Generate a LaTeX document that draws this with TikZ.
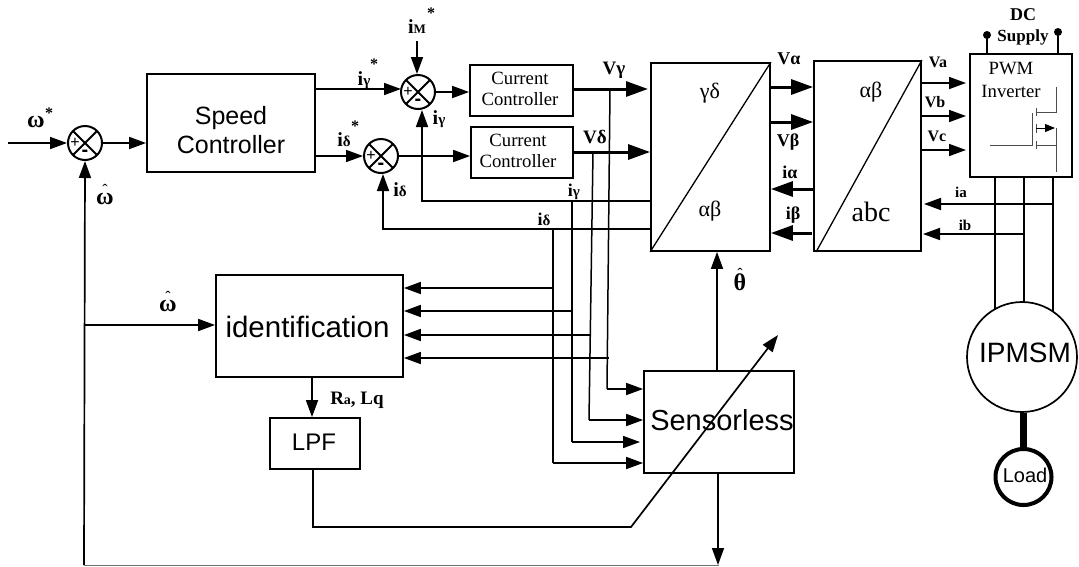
\documentclass[tikz,border=0pt]{standalone}
\usepackage{fontspec}
\setmainfont{Liberation Serif}
\newfontfamily\arialf{Liberation Sans}
\usetikzlibrary{arrows.meta}
\newcommand\fsz[1]{\fontsize{#1}{#1}\selectfont}
\newcommand\sub[2]{{\fsz{#1}#2}}
\newcommand\hatx[2]{\ooalign{\hfil\smash{\raisebox{#1}{\fsz{16}\mdseries ˆ}}\hfil\cr #2\cr}}
\tikzset{
  box/.style={draw,line width=1.8pt,inner sep=0pt,align=center,minimum width=#1},
  sumj/.style={draw,circle,line width=2pt,minimum size=34pt,inner sep=0pt,fill=white,
    path picture={\draw[line width=2pt] (path picture bounding box.north west)--(path picture bounding box.south east)
      (path picture bounding box.south west)--(path picture bounding box.north east);}},
  wire/.style={line width=1.5pt},
  thick arr/.style={line width=3pt,-{Triangle[length=22pt,width=15pt]}},
  med arr/.style={line width=1.7pt,-{Triangle[length=17pt,width=12pt]}},
  lab/.style={inner sep=0pt,font=\bfseries\fsz{#1}},
  ser/.style={inner sep=0pt,font=\fsz{#1}},
  ar/.style={inner sep=0pt,font=\arialf\fsz{#1},align=center},
  fet/.style={line width=0.8pt,draw=black!70}
}
\begin{document}
\begin{tikzpicture}[x=1pt,y=-1pt]
\useasboundingbox (0,0) rectangle (1079,566);
% blocks
\node[box=168pt,minimum height=98pt] (speed) at (231,123) {};
\node[box=103pt,minimum height=51pt] (cc1) at (521.5,90.5) {};
\node[box=102pt,minimum height=51pt] (cc2) at (522,152.5) {};
\node[box=119pt,minimum height=188pt] (gd) at (710.5,157) {};
\node[box=107pt,minimum height=190pt] (ab) at (867.5,156) {};
\node[box=102pt,minimum height=123pt] (pwm) at (1021,115.5) {};
\node[box=187pt,minimum height=102pt] (ident) at (309.5,326) {};
\node[box=90pt,minimum height=51pt] (lpf) at (315,443.5) {};
\node[box=150pt,minimum height=102pt] (sless) at (719,422) {};
\node[draw,circle,line width=1.7pt,minimum size=110pt,inner sep=0pt] (motor) at (1022,357) {};
\node[draw,circle,line width=4pt,minimum size=56pt,inner sep=0pt] (load) at (1023.5,477) {};
% summing junctions
\node[sumj] (s1) at (85,143) {};
\node[sumj] (s2) at (418,92) {};
\node[sumj] (s3) at (381,156) {};
\foreach \s in {s1,s2,s3}{
  \node[ar=16] (\s p) at ([xshift=-10pt]\s.center) {+};
  \node[inner sep=0pt,font=\arialf\bfseries\fsz{20}] (\s m) at ([yshift=-10pt]\s.center) {-};
}
% diagonals
\draw[line width=1.3pt] (gd.south west)--(gd.north east);
\draw[line width=1.3pt] ([xshift=3pt]ab.south west)--(ab.north east);
% left / top signal flow
\coordinate (win) at (8,143);
\coordinate (ms) at (417,41);
\draw[med arr] (win)--(s1.west);
\draw[med arr] (s1.east)--(speed.west|-s1.east);
\draw[med arr] (speed.east|-0,89)--(401,89);
\draw[med arr] (speed.east|-0,156)--(s3.west);
\draw[med arr] (ms)--(s2.north-|ms);
\draw[med arr] (s2.east)--(cc1.west|-s2.east);
\draw[med arr] (s3.east)--(cc2.west|-s3.east);
% feedback
\draw[med arr] (gd.west|-0,201)-|(422,110);
\draw[med arr] (gd.west|-0,229)-|(383,174);
% speed loop
\coordinate (bl) at (84,565);
\coordinate (wt) at (84,325);
\draw[med arr] (bl)--(s1.south);
\draw[line width=1pt,draw=black!55] (bl)--(sless.south|-bl);
\draw[med arr] (wt)--(ident.west|-wt);
% thick
\draw[thick arr] (cc1.east|-0,89)--(648,89);
\draw[thick arr] (cc2.east|-0,152)--(gd.west|-0,152);
\draw[thick arr] (gd.east|-0,87)--(ab.west|-0,87);
\draw[thick arr] (gd.east|-0,122)--(ab.west|-0,122);
\draw[thick arr] (ab.west|-0,189)--(gd.east|-0,189);
\draw[thick arr] (812,233)--(gd.east|-0,233);
% voltages
\draw[med arr] (ab.east|-0,83)--(966,83);
\draw[med arr] (ab.east|-0,116)--(966,116);
\draw[med arr] (ab.east|-0,150)--(966,150);
% current feedback
\coordinate (ta) at (1053,204);
\coordinate (tb) at (1024,234);
\draw[med arr] (ta)--(924,204);
\draw[med arr] (tb)--(923,234);
% motor lines
\draw[line width=1.7pt] (995,177)--(995,310);
\draw[line width=1.7pt] (1024,177)--(1024,303);
\draw[line width=1.7pt] (1053,177)--(1053,312);
\draw[line width=7pt] (motor.south-|load.north)--(load.north);
% dc supply
\coordinate (d1) at (987,35);
\coordinate (d2) at (1058,32);
\draw[line width=1.7pt] (d1)--(d1|-pwm.north);
\draw[line width=1.7pt] (d2)--(d2|-pwm.north);
\fill (d1) circle (4pt);
\fill (d2) circle (4pt);
% mosfet
\draw[fet] (990,145)--(1032,145)--(1032,113);
\draw[fet,line width=1pt] (1036,108)--(1036,116) (1036,124)--(1036,133) (1036,141)--(1036,149);
\draw[fet] (1036,112)--(1056,112)--(1056,87);
\draw[fet] (1036,145)--(1056,145);
\draw[fet] (1056,128)--(1056,172);
\draw[line width=1pt,-{Triangle[length=10pt,width=8pt]}] (1036,128)--(1055,128);
% taps
\coordinate (j1) at (553,229);
\coordinate (j2) at (572,201);
\coordinate (j3) at (593,152);
\coordinate (j4) at (610,89);
\draw[wire] (j1)--(553,463);
\draw[wire] (j2)--(572,442);
\draw[wire] (j3)--(589,420);
\draw[wire] (j4)--(607,389);
\draw[med arr] (553,463)--(sless.west|-0,463);
\draw[med arr] (572,442)--(640,442);
\draw[med arr] (589,420)--(sless.west|-0,420);
\draw[med arr] (607,389)--(sless.west|-0,389);
\draw[med arr] (553,288)--(ident.east|-0,288);
\draw[med arr] (572,311)--(ident.east|-0,311);
\draw[med arr] (590,335)--(ident.east|-0,335);
\draw[med arr] (609,358)--(ident.east|-0,358);
% lower
\draw[med arr] (sless.north-|717,0)--(gd.south-|717,0);
\draw[med arr] (sless.south-|718,0)--(718,565);
\draw[med arr] (ident.south-|312,0)--(lpf.north-|312,0);
\coordinate (bend) at (631,527);
\coordinate (atip) at (778,335);
\draw[med arr] (lpf.south-|313,0)|-(bend)--(atip);
% block texts
\node[ar=25] (tsp) at (231,130) {Speed\\[4pt]Controller};
\node[ser=18.7,align=center] (tc1) at (520,89) {Current\\[3pt]Controller};
\node[ser=18.7,align=center] (tc2) at (518,151) {Current\\[3pt]Controller};
\node[ar=29.5] (tid) at (307.5,327) {identification};
\node[ar=24] (tlp) at (314,442) {LPF};
\node[ar=29] (tsl) at (722,420) {Sensorless};
\node[ar=28] (tmo) at (1025,353) {IPMSM};
\node[ar=20] (tlo) at (1025,475) {Load};
\node[ser=22] (t1) at (710,93) {γδ};
\node[ser=22] (t2) at (710,211) {αβ};
\node[ser=22] (t3) at (871,92) {αβ};
\node[ser=28] (t4) at (871,212) {abc};
\node[ser=18.7] (t5) at (1011,69) {PWM};
\node[ser=18.7] (t6) at (1011,91) {Inverter};
\node[lab=18] (t7) at (1023,15) {DC};
\node[lab=17] (t8) at (1023,37) {Supply};
% labels
\node[lab=24] (w1) at (36,122) {ω};
\node[lab=16] (w1s) at (49,113) {*};
\node[lab=24] (w2) at (105,205) {\hatx{9pt}{ω}};
\node[lab=24] (w3) at (168,312) {\hatx{9pt}{ω}};
\node[lab=24] (th) at (740,291) {\hatx{11pt}{θ}};
\node[lab=20] (i1) at (417,27) {i\sub{13}{M}};
\node[lab=16] (i1s) at (431,13) {*};
\node[lab=20] (i2) at (364,80) {i\sub{15}{γ}};
\node[lab=16] (i2s) at (374,64) {*};
\node[lab=20] (i3) at (344,140) {i\sub{15}{δ}};
\node[lab=16] (i3s) at (355,126) {*};
\node[lab=20] (i4) at (439,119) {i\sub{15}{γ}};
\node[lab=20] (i5) at (400,190) {i\sub{15}{δ}};
\node[lab=18] (i6) at (574,192) {i\sub{15}{γ}};
\node[lab=18] (i7) at (544,219) {i\sub{15}{δ}};
\node[lab=19] (v1) at (614,70) {Vγ};
\node[lab=19] (v2) at (595,137) {Vδ};
\node[lab=18] (v3) at (789,59) {Vα};
\node[lab=18] (v4) at (788,142) {Vβ};
\node[lab=18] (i8) at (790,172) {iα};
\node[lab=18] (i9) at (793,215) {iβ};
\node[lab=16] (v5) at (938,62) {Va};
\node[lab=16] (v6) at (935,102) {Vb};
\node[lab=16] (v7) at (937,136) {Vc};
\node[lab=15] (ia) at (961,192) {ia};
\node[lab=15] (ib) at (965,225) {ib};
\node[lab=19] (rl) at (357,400) {R\sub{14}{a}, Lq};
\end{tikzpicture}
\end{document}
